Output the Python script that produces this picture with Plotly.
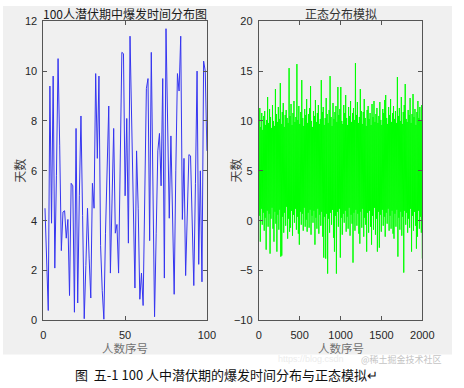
import numpy as np
import plotly.graph_objects as go

# ---- data: left panel (100 people, incubation days) ----
days = [4.5, 2.0, 0.4, 9.4, 3.9, 9.8, 2.1, 5.8, 10.5, 7.0,
        2.8, 4.35, 4.4, 3.3, 4.05, 1.0, 5.5, 5.4, 0.33, 7.7,
        0.7, 5.0, 8.2, 4.2, 0.07, 2.2, 4.5, 2.5, 0.9, 5.5,
        4.5, 9.9, 6.5, 9.8, 3.0, 1.2, 0.05, 3.5, 6.0, 8.6,
        1.9, 4.8, 7.7, 3.5, 3.85, 1.9, 6.0, 10.75, 10.7, 5.0,
        8.1, 3.1, 11.4, 7.5, 4.0, 1.3, 6.8, 4.5, 0.85, 1.9,
        0.6, 5.5, 9.3, 9.7, 3.2, 10.75, 5.0, 0.15, 3.5, 6.8,
        7.5, 5.4, 9.7, 1.7, 11.7, 7.8, 4.1, 7.4, 4.5, 1.05,
        6.0, 9.9, 9.2, 11.4, 4.05, 6.5, 1.8, 4.0, 6.65, 6.6,
        3.8, 1.4, 5.5, 10.0, 2.25, 6.0, 1.55, 10.4, 10.0, 6.8]
person = list(range(1, len(days) + 1))

# ---- data: right panel (normal simulation, read as per-column high / low envelope) ----
sim_high = [10.2, 11.3, 9.4, 10.8, 9.1, 10.5, 11.0, 9.6, 10.1, 12.4,
            9.8, 11.2, 10.4, 9.3, 11.6, 10.0, 9.5, 13.2, 10.7, 9.9,
            11.4, 10.2, 13.8, 9.7, 10.9, 11.8, 9.4, 10.6, 11.1, 10.3,
            9.8, 15.3, 10.5, 11.7, 9.6, 10.8, 12.0, 9.9, 10.4, 15.7,
            10.1, 11.5, 9.7, 10.9, 14.1, 10.3, 9.5, 11.2, 10.6, 12.2,
            9.8, 10.7, 11.3, 13.5, 10.0, 9.4, 11.0, 10.5, 12.1, 9.9,
            10.8, 11.6, 9.7, 10.2, 14.1, 10.9, 11.4, 9.6, 10.3, 12.3,
            10.7, 9.8, 11.1, 14.5, 10.4, 9.5, 11.8, 10.2, 10.9, 11.5,
            9.9, 13.4, 10.6, 11.2, 13.4, 10.0, 9.7, 11.6, 10.8, 12.6,
            10.3, 9.6, 11.4, 10.5, 12.0, 9.9, 10.8, 11.3, 10.1, 15.8,
            10.6, 11.9, 9.8, 10.4, 13.2, 11.0, 9.7, 10.9, 12.2, 10.3,
            9.5, 11.1, 11.5, 10.2, 10.8, 9.6, 11.7, 10.4, 12.0, 9.9,
            10.7, 11.3, 9.8, 10.5, 11.9, 10.1, 9.6, 11.2, 10.8, 12.1,
            12.6, 10.3, 9.7, 11.4, 10.6, 12.2, 9.9, 10.8, 11.5, 10.2,
            11.0, 9.8, 14.4, 10.5, 11.3, 10.0, 12.4, 9.7, 10.9, 11.6,
            13.7, 10.2, 9.9, 11.1, 10.6, 12.3, 9.8, 10.7, 12.7, 10.4,
            11.2, 9.6, 10.9, 12.0, 10.3, 11.4, 10.1, 11.6]
sim_low = [0.5, -2.1, 1.2, -0.4, 0.8, -1.0, 0.3, -2.9, 1.0, -0.6,
           0.7, -3.3, 0.2, 1.3, -0.8, -2.1, 0.9, -0.3, -3.1, 0.6,
           -0.9, 1.1, -3.6, -3.5, 0.4, -1.2, 0.8, -0.5, 1.4, -1.8,
           0.2, -1.1, -0.7, 1.0, -1.5, 0.6, -0.2, 1.2, -0.9, 0.4,
           -1.3, -2.4, 0.9, -0.4, 0.7, -1.0, 1.3, -0.6, 0.1, -1.1,
           0.8, -0.7, 1.1, -1.4, 0.5, -0.2, 1.0, -2.4, 0.3, -0.8,
           1.2, -1.3, 0.6, -0.5, 0.9, -1.6, -3.7, 0.4, -3.8, 0.7,
           -5.3, 0.2, -1.2, 0.8, -0.4, 1.1, -1.7, -3.1, 0.5, -5.3,
           0.9, -0.6, 1.2, -3.7, 0.3, -1.4, 0.7, -0.2, 1.0, -1.1,
           0.4, -0.8, 1.3, -1.5, 0.6, -0.3, -4.2, 0.8, -1.0, 1.1,
           -0.5, 0.7, -1.3, -2.3, 0.9, -0.7, 1.2, -1.6, 0.3, -0.4,
           -3.1, 0.8, -1.2, 1.0, -0.6, -2.4, 0.5, -0.9, 1.3, -1.4,
           0.2, -3.1, 0.9, -2.7, 0.6, -1.1, 1.1, -0.5, 0.4, -1.6,
           0.8, -0.3, 1.2, -1.0, 0.5, -0.8, 1.0, -1.3, -1.8, 0.7,
           -0.6, 1.1, -3.6, 0.3, -0.9, 0.9, -1.5, 0.4, -5.2, 1.0,
           -0.4, 0.8, -1.2, 0.2, -0.7, 1.2, -3.1, 0.5, -1.0, 0.9,
           -0.5, -2.8, -1.6, 1.0, -0.8, 0.4, -1.2, -3.8]
sim_count = 2000

n = min(len(sim_high), len(sim_low))
sim_vals = []
for h, l in zip(sim_high[:n], sim_low[:n]):
    sim_vals.extend([h, l])
sim_x = np.linspace(1, sim_count, len(sim_vals))

# ---- text ----
title_left = "100人潜伏期中爆发时间分布图"
title_right = "正态分布模拟"
xlabel = "人数序号"
ylabel = "天数"
caption = "图  五-1 100 人中潜伏期的爆发时间分布与正态模拟↵"
left_xticks = [0, 50, 100]
left_yticks = [0, 2, 4, 6, 8, 10, 12]
right_xticks = [0, 500, 1000, 1500, 2000]
right_yticks = [-10, -5, 0, 5, 10, 15, 20]

W, H = 464, 388
def px(x): return x / W
def py(y): return 1 - y / H

fig = go.Figure()
fig.add_trace(go.Scatter(x=person, y=days, mode="lines",
                         line=dict(color="#3535f0", width=1), xaxis="x", yaxis="y",
                         showlegend=False, hoverinfo="skip"))
fig.add_trace(go.Scatter(x=sim_x, y=sim_vals, mode="lines",
                         line=dict(color="#00ff00", width=1), xaxis="x2", yaxis="y2",
                         showlegend=False, hoverinfo="skip"))

axcol = "#555555"
tickfont = dict(family="Liberation Sans, Arial", size=11, color="#262626")
common = dict(showgrid=False, zeroline=False, showline=True, linecolor=axcol, linewidth=1,
              mirror="ticks", ticks="inside", ticklen=4, tickcolor=axcol, tickwidth=1,
              tickfont=tickfont, fixedrange=True)
xcommon = dict(common, ticklabelstandoff=4)
ycommon = dict(common, ticklabelstandoff=3)

dom_y = [py(324.5), py(15.7)]
fig.update_layout(
    width=W, height=H, margin=dict(l=0, r=0, t=0, b=0),
    paper_bgcolor="white", plot_bgcolor="white",
    xaxis=dict(domain=[px(41.7), px(210.7)], range=[0, 100], tickvals=left_xticks, anchor="y", **xcommon),
    yaxis=dict(domain=dom_y, range=[0, 12], tickvals=left_yticks, anchor="x", **ycommon),
    xaxis2=dict(domain=[px(264.3), px(433.3)], range=[0, 2000], tickvals=right_xticks, anchor="y2", **xcommon),
    yaxis2=dict(domain=dom_y, range=[-10, 20], tickvals=right_yticks, anchor="x2", **ycommon),
    shapes=[dict(type="rect", xref="paper", yref="paper", x0=0, x1=1, y0=py(359.5), y1=1,
                 fillcolor="#f0f0f0", line=dict(width=0), layer="below")],
)

cjk = "Noto Sans CJK SC"
ann = []
ann.append(dict(text=title_left, x=px(126), y=py(8), xref="paper", yref="paper", showarrow=False,
                font=dict(family=cjk, size=12, color="#1a1a1a"), xanchor="center", yanchor="middle"))
ann.append(dict(text=title_right, x=px(349), y=py(8), xref="paper", yref="paper", showarrow=False,
                font=dict(family=cjk, size=12, color="#333333"), xanchor="center", yanchor="middle"))
for cx in (126, 349):
    ann.append(dict(text=xlabel, x=px(cx), y=py(352.5), xref="paper", yref="paper", showarrow=False,
                    font=dict(family=cjk, size=11.5, color="#707070"), xanchor="center", yanchor="middle"))
for cx in (17.5, 240.5):
    ann.append(dict(text=ylabel, x=px(cx), y=py(170), xref="paper", yref="paper", showarrow=False,
                    textangle=-90, font=dict(family=cjk, size=12, color="#404040"),
                    xanchor="center", yanchor="middle"))
ann.append(dict(text=caption, x=px(231), y=py(380.5), xref="paper", yref="paper", showarrow=False,
                font=dict(family=cjk, size=13, color="#111111"), xanchor="center", yanchor="middle"))
ann.append(dict(text="https://blog.csdn", x=px(318), y=py(364), xref="paper", yref="paper", showarrow=False,
                font=dict(family="Liberation Sans", size=9, color="#ececec"), xanchor="center", yanchor="middle"))
ann.append(dict(text="@稀土掘金技术社区", x=px(412), y=py(364.5), xref="paper", yref="paper", showarrow=False,
                font=dict(family=cjk, size=9, color="#c4c4c4"), xanchor="center", yanchor="middle"))
fig.update_layout(annotations=ann)

fig.write_html("out.html")
